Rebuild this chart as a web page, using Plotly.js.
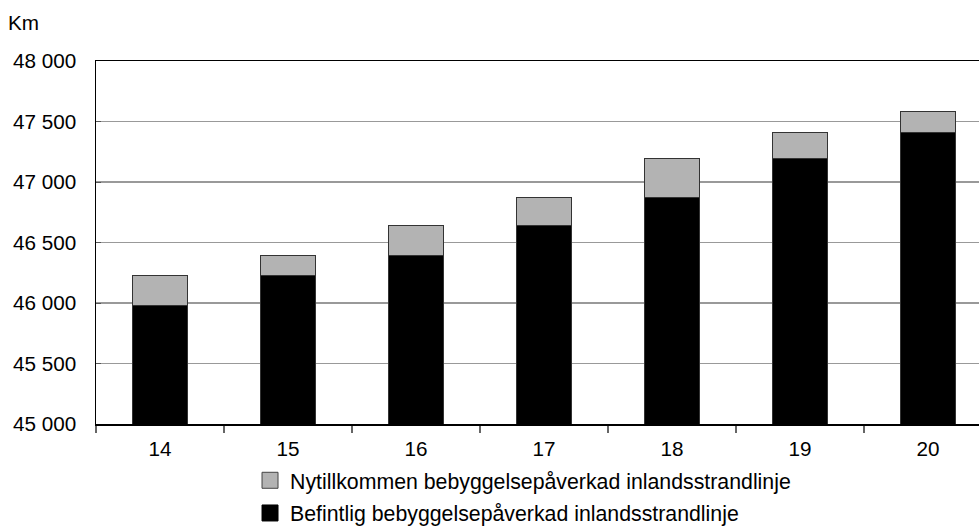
<!DOCTYPE html>
<html>
<head>
<meta charset="utf-8">
<script src="https://cdn.plot.ly/plotly-3.0.1.min.js"></script>
<style>
html, body { margin: 0; padding: 0; overflow: hidden; background: #fff; }
#chart { width: 1000px; height: 526px; }
</style>
</head>
<body>
<div id="chart"></div>
<script>
const years = ['14', '15', '16', '17', '18', '19', '20'];
const befintlig = [45980, 46224, 46396, 46637, 46875, 47193, 47411];
const nytillkommen = [244, 172, 241, 238, 318, 218, 174];
const yTickVals = [45000, 45500, 46000, 46500, 47000, 47500, 48000];
const nameBefintlig = 'Befintlig bebyggelsepåverkad inlandsstrandlinje';
const nameNy = 'Nytillkommen bebyggelsepåverkad inlandsstrandlinje';

const FONT = 'Liberation Sans, Arial, sans-serif';
const FS = 20.7;

const traces = [
  {
    type: 'bar',
    name: nameBefintlig,
    x: years,
    y: befintlig,
    showlegend: false,
    marker: { color: '#000000', line: { color: '#333333', width: 1 } }
  },
  {
    type: 'bar',
    name: nameNy,
    x: years,
    y: nytillkommen,
    showlegend: false,
    marker: { color: '#b3b3b3', line: { color: '#333333', width: 1 } }
  },
  // legend entries (no visible marks in the plot)
  {
    type: 'scatter',
    mode: 'markers',
    name: nameNy,
    legendgroup: 'a',
    x: [years[0]],
    y: [null],
    marker: { symbol: 'square', size: 16, color: '#b3b3b3', line: { color: '#444444', width: 1 } },
    hoverinfo: 'skip'
  },
  {
    type: 'scatter',
    mode: 'markers',
    name: nameBefintlig,
    legendgroup: 'b',
    x: [years[0]],
    y: [null],
    marker: { symbol: 'square', size: 16, color: '#000000', line: { color: '#000000', width: 1 } },
    hoverinfo: 'skip'
  }
];

const layout = {
  width: 1000,
  height: 526,
  margin: { l: 96, r: 8, t: 61, b: 102, autoexpand: false },
  paper_bgcolor: '#ffffff',
  plot_bgcolor: '#ffffff',
  barmode: 'stack',
  bargap: 0.566,
  separators: ', ',
  font: { family: FONT, size: FS, color: '#000000' },
  showlegend: true,
  legend: {
    orientation: 'v',
    traceorder: 'grouped',
    tracegroupgap: 2,
    itemsizing: 'trace',
    x: 0.1719,
    xanchor: 'left',
    y: -0.099,
    yanchor: 'top',
    font: { family: FONT, size: 21.3, color: '#000000' },
    bgcolor: 'rgba(0,0,0,0)',
    itemwidth: 30
  },
  xaxis: {
    type: 'category',
    showline: true,
    linecolor: '#000000',
    linewidth: 1.5,
    mirror: true,
    ticks: 'outside',
    tickson: 'boundaries',
    ticklen: 7,
    tickcolor: '#666666',
    tickwidth: 1.5,
    showgrid: false,
    tickfont: { family: FONT, size: FS, color: '#000000' },
    ticklabelstandoff: 6
  },
  yaxis: {
    range: [45000, 48000],
    tickvals: yTickVals,
    tickformat: ',d',
    showline: true,
    linecolor: '#000000',
    linewidth: 1.5,
    mirror: true,
    ticks: 'inside',
    ticklen: 5,
    tickcolor: '#555555',
    showgrid: true,
    gridcolor: '#999999',
    gridwidth: 1.5,
    zeroline: false,
    tickfont: { family: FONT, size: FS, color: '#000000' },
    ticklabelstandoff: 14
  },
  annotations: [
    {
      text: 'Km',
      xref: 'paper', yref: 'paper',
      x: -0.1004, y: 1.105,
      xanchor: 'left', yanchor: 'middle',
      showarrow: false,
      font: { family: FONT, size: FS, color: '#000000' }
    }
  ]
};

Plotly.newPlot('chart', traces, layout, { displayModeBar: false, staticPlot: true });
</script>
</body>
</html>
